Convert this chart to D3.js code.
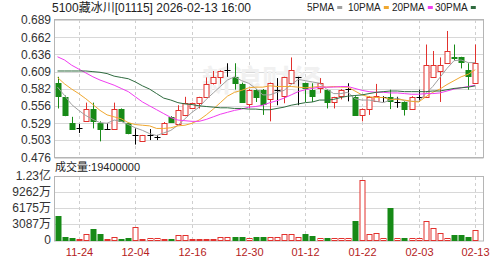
<!DOCTYPE html>
<html>
<head>
<meta charset="utf-8">
<script src="https://cdn.jsdelivr.net/npm/d3@7"></script>
<style>
  body { margin: 0; background: #fff; }
  svg { display: block; }
</style>
</head>
<body>
<svg id="chart"></svg>
<script>
// trading days shown (60 candles)
const dates = ["11-19","11-20","11-21","11-24","11-25","11-26","11-27","11-28",
  "12-01","12-02","12-03","12-04","12-05","12-08","12-09","12-10","12-11","12-12","12-15","12-16",
  "12-17","12-18","12-19","12-22","12-23","12-24","12-29","12-30","12-31","01-02",
  "01-05","01-06","01-07","01-08","01-09","01-12","01-13","01-14","01-15","01-16",
  "01-19","01-20","01-21","01-22","01-23","01-26","01-27","01-28","01-29","01-30",
  "02-02","02-03","02-04","02-05","02-06","02-09","02-10","02-11","02-12","02-13"];

const open  = [0.591,0.570,0.530,0.521,0.532,0.551,0.530,0.520,0.520,0.551,0.529,0.511,0.502,0.511,0.508,0.513,0.539,0.529,0.541,0.552,
               0.560,0.570,0.590,0.600,0.612,0.600,0.590,0.560,0.581,0.581,0.566,0.581,0.570,0.591,0.600,0.591,0.581,0.583,0.581,0.561,
               0.571,0.582,0.570,0.542,0.552,0.564,0.570,0.570,0.562,0.562,0.552,0.570,0.570,0.601,0.610,0.622,0.631,0.631,0.611,0.591];
const high  = [0.601,0.572,0.539,0.528,0.561,0.561,0.532,0.529,0.561,0.552,0.530,0.521,0.511,0.520,0.511,0.531,0.540,0.557,0.570,0.561,
               0.570,0.600,0.610,0.611,0.622,0.622,0.592,0.582,0.582,0.582,0.592,0.599,0.601,0.631,0.601,0.592,0.591,0.599,0.582,0.570,
               0.582,0.591,0.571,0.552,0.571,0.590,0.571,0.581,0.570,0.563,0.571,0.581,0.651,0.641,0.631,0.672,0.651,0.632,0.622,0.651];
const low   = [0.552,0.540,0.521,0.514,0.531,0.521,0.501,0.520,0.519,0.531,0.512,0.496,0.502,0.503,0.503,0.512,0.531,0.529,0.540,0.551,
               0.552,0.569,0.589,0.590,0.601,0.581,0.561,0.552,0.562,0.542,0.532,0.557,0.560,0.590,0.557,0.562,0.562,0.576,0.552,0.552,
               0.566,0.563,0.541,0.532,0.542,0.563,0.562,0.551,0.553,0.541,0.551,0.562,0.569,0.600,0.562,0.621,0.626,0.614,0.581,0.590];
const close = [0.571,0.542,0.521,0.521,0.551,0.533,0.520,0.520,0.551,0.532,0.513,0.511,0.511,0.511,0.508,0.530,0.532,0.550,0.560,0.560,
               0.569,0.590,0.600,0.610,0.612,0.591,0.562,0.581,0.570,0.560,0.591,0.581,0.600,0.611,0.600,0.583,0.571,0.591,0.563,0.569,
               0.581,0.582,0.542,0.551,0.570,0.572,0.570,0.564,0.562,0.551,0.570,0.570,0.620,0.620,0.620,0.641,0.629,0.624,0.601,0.622];

// volume, millions of shares
const volume = [46,6,3,1.5,11,21,11,2,6,2,3,26,1.5,4.5,4.5,1.5,2,10,10,2,2,2,2,5,5,5.5,5.5,4.5,5.5,5.5,
                5,5,11,11,6,11,7,4,4,3,4,4,36,115,12,14,3,62,3,4,4,4,36,23,14,4,10,10,6,19.4];

const ma5  = [0.585,0.572,0.558,0.549,0.541,0.535,0.530,0.529,0.534,0.532,0.527,0.522,0.518,0.513,0.510,0.514,0.518,0.526,0.536,0.546,
              0.554,0.566,0.576,0.586,0.596,0.601,0.595,0.591,0.583,0.573,0.573,0.577,0.580,0.589,0.597,0.595,0.593,0.591,0.582,0.575,
              0.575,0.577,0.567,0.565,0.565,0.563,0.561,0.565,0.568,0.564,0.563,0.563,0.575,0.586,0.600,0.614,0.626,0.627,0.623,0.623];
const ma10 = [0.600,0.590,0.582,0.575,0.567,0.558,0.549,0.542,0.539,0.536,0.530,0.527,0.526,0.525,0.521,0.521,0.522,0.525,0.526,0.529,
              0.534,0.542,0.551,0.561,0.571,0.577,0.580,0.584,0.585,0.585,0.587,0.586,0.586,0.586,0.585,0.584,0.585,0.586,0.585,0.586,
              0.585,0.585,0.579,0.573,0.570,0.569,0.569,0.566,0.566,0.565,0.563,0.562,0.570,0.577,0.582,0.589,0.595,0.601,0.605,0.612];
const ma20 = [0.632,0.627,0.619,0.613,0.607,0.601,0.596,0.592,0.588,0.583,0.578,0.570,0.562,0.556,0.550,0.544,0.538,0.534,0.533,0.532,
              0.532,0.535,0.539,0.543,0.546,0.549,0.551,0.554,0.555,0.557,0.561,0.564,0.568,0.573,0.578,0.581,0.583,0.585,0.585,0.585,
              0.586,0.586,0.583,0.580,0.578,0.577,0.577,0.576,0.576,0.575,0.574,0.574,0.575,0.575,0.576,0.579,0.582,0.584,0.586,0.588];
const ma30 = [0.610,0.610,0.610,0.610,0.610,0.609,0.608,0.606,0.602,0.600,0.598,0.593,0.587,0.582,0.575,0.568,0.565,0.561,0.559,0.558,
              0.556,0.555,0.554,0.553,0.553,0.552,0.552,0.551,0.551,0.550,0.550,0.552,0.554,0.557,0.559,0.561,0.562,0.565,0.565,0.566,
              0.569,0.571,0.572,0.573,0.575,0.577,0.578,0.579,0.579,0.578,0.578,0.578,0.578,0.579,0.579,0.581,0.583,0.584,0.585,0.587];

const priceTicks = [0.476,0.503,0.529,0.556,0.582,0.609,0.636,0.662,0.689];
const volTicks = [0,30.87,61.75,92.62,123.5];
const volTickLabels = ["0","3087万","6175万","9262万","1.23亿"];
const dateTicks = ["11-24","12-04","12-16","12-30","01-12","01-22","02-03","02-13"];

const maNames = ["5PMA","10PMA","20PMA","30PMA"];
const maColors = ["#a0a0a0","#f0a830","#f03cf0","#2f6b3f"];
const maData = [ma5, ma10, ma20, ma30];

const RED = "#e2312d", GREEN = "#178a17";

const width = 503, height = 262;
const svg = d3.select("#chart").attr("width", width).attr("height", height)
  .style("font-family", "'Liberation Sans', Arial, 'Noto Sans CJK SC', sans-serif");

const x = d3.scaleLinear().domain([0, dates.length - 1]).range([57.5, 475.3]);
const y = d3.scaleLinear().domain([0.476, 0.689]).range([157.5, 20]);
const yv = d3.scaleLinear().domain([0, 123.5]).range([240, 176]);
const cx = i => Math.round(x(i)) + 0.5;

const left = 54.5, right = 483.5;

// horizontal grid, price panel
svg.append("g").selectAll("line").data(priceTicks).enter().append("line")
  .attr("x1", left).attr("x2", right)
  .attr("y1", d => Math.round(y(d)) + 0.5).attr("y2", d => Math.round(y(d)) + 0.5)
  .attr("stroke", "#d8d8d8");

// horizontal grid, volume panel
svg.append("g").selectAll("line").data(volTicks.slice(1)).enter().append("line")
  .attr("x1", left).attr("x2", right)
  .attr("y1", d => Math.round(yv(d)) + 0.5).attr("y2", d => Math.round(yv(d)) + 0.5)
  .attr("stroke", "#d8d8d8");

// vertical dashed grid at date labels
const tickIdx = dateTicks.map(d => dates.indexOf(d));
svg.append("g").selectAll("line.p").data(tickIdx).enter().append("line")
  .attr("x1", cx).attr("x2", cx).attr("y1", 20).attr("y2", 157)
  .attr("stroke", "#cfcfcf").attr("stroke-dasharray", "3,3");
svg.append("g").selectAll("line.v").data(tickIdx).enter().append("line")
  .attr("x1", cx).attr("x2", cx).attr("y1", 177).attr("y2", 241)
  .attr("stroke", "#cfcfcf").attr("stroke-dasharray", "3,3");

// watermark
svg.append("text").attr("x", 262).attr("y", 91).attr("text-anchor", "middle")
  .attr("font-family", "'Noto Sans CJK SC'").attr("font-size", 30).attr("font-weight", "bold")
  .attr("fill", "#f1f1f1").text("新浪财经");

// panel frames
svg.append("rect").attr("x", left).attr("y", 19.5).attr("width", right - left).attr("height", 138)
  .attr("fill", "none").attr("stroke", "#b5b5b5");
svg.append("rect").attr("x", left).attr("y", 176.5).attr("width", right - left).attr("height", 64.5)
  .attr("fill", "none").attr("stroke", "#b5b5b5");

// candles
const idx = d3.range(dates.length);
const colorOf = i => close[i] > open[i] ? RED : (close[i] < open[i] ? GREEN : "#000");
const candles = svg.append("g");
candles.selectAll("line").data(idx).enter().append("line")
  .attr("x1", cx).attr("x2", cx)
  .attr("y1", i => y(high[i])).attr("y2", i => y(low[i]))
  .attr("stroke", colorOf);
candles.selectAll("rect").data(idx.filter(i => close[i] !== open[i])).enter().append("rect")
  .attr("x", i => cx(i) - 2.5)
  .attr("y", i => Math.round(y(Math.max(open[i], close[i]))) + 0.5)
  .attr("width", 5)
  .attr("height", i => Math.max(1, Math.round(y(Math.min(open[i], close[i])) - y(Math.max(open[i], close[i])))))
  .attr("fill", i => close[i] > open[i] ? "#fff" : GREEN)
  .attr("stroke", colorOf);
candles.selectAll("line.doji").data(idx.filter(i => close[i] === open[i])).enter().append("line")
  .attr("x1", i => cx(i) - 3).attr("x2", i => cx(i) + 3)
  .attr("y1", i => Math.round(y(close[i])) + 0.5).attr("y2", i => Math.round(y(close[i])) + 0.5)
  .attr("stroke", "#000");

// moving averages
maData.forEach((arr, k) => {
  svg.append("path").datum(arr)
    .attr("fill", "none").attr("stroke", maColors[k]).attr("stroke-width", 1)
    .attr("d", d3.line().x((d, i) => x(i)).y(d => y(d)));
});

// volume bars
svg.append("g").selectAll("rect").data(idx).enter().append("rect")
  .attr("x", i => cx(i) - 2.5)
  .attr("y", i => Math.round(yv(volume[i])) + 0.5)
  .attr("width", 5)
  .attr("height", i => Math.max(1, 240 - Math.round(yv(volume[i]))))
  .attr("fill", i => close[i] >= open[i] ? "#fff" : GREEN)
  .attr("stroke", i => close[i] >= open[i] ? RED : GREEN);

// price axis labels
svg.append("g").selectAll("text").data(priceTicks).enter().append("text")
  .attr("x", 51).attr("y", d => y(d)).attr("dy", "0.36em").attr("text-anchor", "end")
  .attr("font-size", 12).attr("fill", "#333")
  .text(d => d.toFixed(3));

// volume axis labels
svg.append("g").selectAll("text").data(volTicks).enter().append("text")
  .attr("x", 51).attr("y", d => yv(d)).attr("dy", "0.36em").attr("text-anchor", "end")
  .attr("font-size", 12).attr("fill", "#333")
  .text((d, i) => volTickLabels[i]);

// date labels
svg.append("g").selectAll("text").data(tickIdx).enter().append("text")
  .attr("x", cx).attr("y", 256).attr("text-anchor", "middle")
  .attr("font-size", 11).attr("fill", "#b52222")
  .text(i => dates[i]);

// title
svg.append("text").attr("x", 52).attr("y", 11.5).attr("font-size", 12).attr("fill", "#222")
  .text("5100藏冰川[01115] 2026-02-13 16:00");

// volume caption
svg.append("text").attr("x", 55).attr("y", 171).attr("font-size", 11).attr("fill", "#222")
  .text("成交量:" + Math.round(volume[volume.length - 1] * 1e6));

// legend
const legendX = [307, 348, 392, 435];
const lg = svg.append("g").selectAll("g").data(maNames).enter().append("g")
  .attr("transform", (d, k) => `translate(${legendX[k]},0)`);
lg.append("text").attr("y", 11).attr("font-size", 10).attr("fill", "#222").text(d => d);
lg.append("rect").attr("y", 6).attr("height", 3).attr("width", 5)
  .attr("x", function(d) { return this.parentNode.querySelector("text").getComputedTextLength() + 3; })
  .attr("fill", (d, k) => maColors[k]);
</script>
</body>
</html>
